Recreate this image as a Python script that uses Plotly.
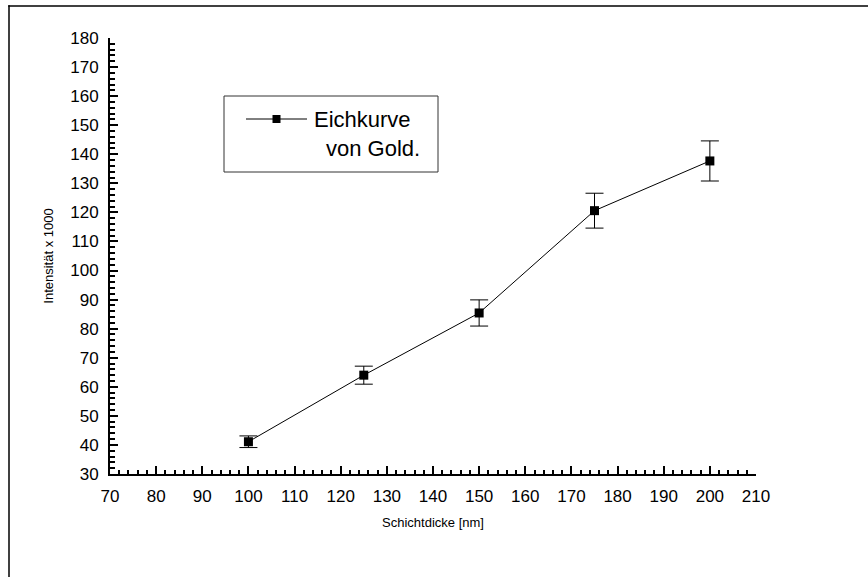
import plotly.graph_objects as go

# Calibration data: layer thickness vs. measured intensity
schichtdicke = [100, 125, 150, 175, 200]
intensitaet = [41.1, 64.0, 85.4, 120.6, 137.7]
fehler = [2.0, 3.1, 4.5, 6.0, 6.9]

legend_lines = ["Eichkurve", "von Gold."]

FONT = "Liberation Sans, Arial, sans-serif"

W, H = 868, 577
L, R, T, B = 110, 112, 38, 103
PW, PH = W - L - R, H - T - B


def px(x):
    return (x - L) / PW


def py(y):
    return (H - B - y) / PH


fig = go.Figure()
fig.add_trace(go.Scatter(
    x=schichtdicke,
    y=intensitaet,
    mode="lines+markers",
    line=dict(color="black", width=1),
    marker=dict(symbol="square", size=9, color="black"),
    error_y=dict(type="data", array=fehler, visible=True,
                 color="black", thickness=1, width=9),
    showlegend=False,
    cliponaxis=False,
))

axis_common = dict(
    showgrid=False,
    zeroline=False,
    showline=True,
    linecolor="black",
    linewidth=2,
    ticks="inside",
    ticklen=8,
    tickwidth=2,
    tickcolor="black",
    tickfont=dict(family=FONT, size=17, color="black"),
    ticklabelstandoff=6,
    mirror=False,
)

fig.update_xaxes(
    range=[70, 210], dtick=10, tick0=70,
    title=dict(text="Schichtdicke [nm]", font=dict(family=FONT, size=13, color="black"), standoff=12),
    minor=dict(ticks="inside", dtick=2, ticklen=4, tickwidth=1.5, tickcolor="black"),
    **axis_common,
)
fig.update_yaxes(
    range=[30, 180], dtick=10, tick0=30,
    title=dict(text="Intensität x 1000", font=dict(family=FONT, size=13, color="black"), standoff=14),
    minor=dict(ticks="inside", dtick=2, ticklen=5, tickwidth=1.5, tickcolor="black"),
    **axis_common,
)

frame = dict(color="black", width=1.5)
shapes = [
    # outer frame: top and left edges (the other two lie off the page)
    dict(type="line", xref="paper", yref="paper",
         x0=px(8.25), x1=px(W + 10), y0=py(6), y1=py(6), line=frame),
    dict(type="line", xref="paper", yref="paper",
         x0=px(9), x1=px(9), y0=py(5.25), y1=py(H + 10), line=frame),
    # legend box
    dict(type="rect", xref="paper", yref="paper",
         x0=px(224), x1=px(438), y0=py(96), y1=py(172),
         line=dict(color="#333333", width=1), fillcolor="white"),
    # legend line sample
    dict(type="line", xref="paper", yref="paper",
         x0=px(246), x1=px(307), y0=py(119), y1=py(119),
         line=dict(color="black", width=1)),
    # legend marker sample
    dict(type="rect", xref="paper", yref="paper",
         x0=px(272.5), x1=px(280.5), y0=py(115), y1=py(123),
         line=dict(color="black", width=0), fillcolor="black"),
]

annotations = [
    dict(text=legend_lines[0], xref="paper", yref="paper", x=px(312), y=py(120),
         xanchor="left", yanchor="middle", showarrow=False,
         font=dict(family=FONT, size=22, color="black")),
    dict(text=legend_lines[1], xref="paper", yref="paper", x=px(324), y=py(148),
         xanchor="left", yanchor="middle", showarrow=False,
         font=dict(family=FONT, size=22, color="black")),
]

fig.update_layout(
    width=W, height=H,
    margin=dict(l=L, r=R, t=T, b=B),
    paper_bgcolor="white",
    plot_bgcolor="white",
    shapes=shapes,
    annotations=annotations,
    showlegend=False,
)

fig.write_html("out.html")
